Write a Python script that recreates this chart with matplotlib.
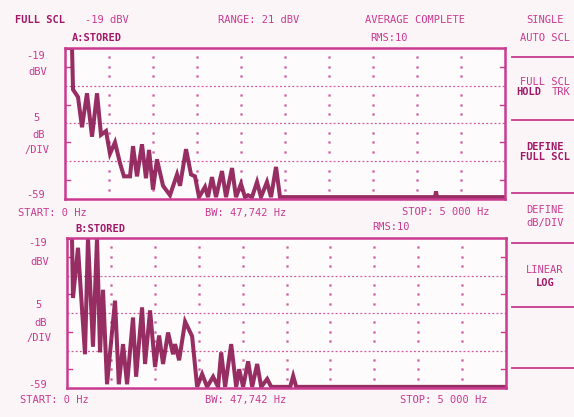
import numpy as np
import matplotlib.pyplot as plt
from matplotlib.lines import Line2D

# trace A (top), frequency in Hz and level in dBV
freq_a = [0, 80, 91, 148, 193, 250, 307, 364, 409, 466, 511, 568, 625, 670, 739,
          773, 818, 875, 920, 955, 1000, 1045, 1114, 1193, 1273, 1307, 1375, 1432,
          1477, 1523, 1591, 1625, 1670, 1716, 1784, 1830, 1898, 1943, 2000, 2045,
          2080, 2125, 2182, 2227, 2295, 2341, 2398, 2443, 4205, 4216, 4227, 5000]
level_a = [-19, -19, -30, -32, -40, -31, -42.5, -31, -42, -41, -47, -44, -49.5, -53, -53,
           -45, -53, -44.5, -53.5, -46, -56.5, -48.5, -55.5, -58, -52.5, -55.5, -45.8, -52.5,
           -53, -58.5, -55.8, -58.5, -53.2, -58.5, -51.6, -58.5, -50.8, -58.5, -55, -58.5,
           -58, -58.5, -54.5, -58.5, -54.5, -58.5, -50.5, -58.5, -58.5, -57, -58.5, -58.5]

# trace B (bottom)
freq_b = [0, 57, 68, 125, 205, 239, 296, 342, 376, 410, 456, 547, 590, 638, 684, 752,
          787, 855, 889, 946, 1003, 1049, 1094, 1151, 1208, 1231, 1277, 1345, 1425,
          1482, 1539, 1596, 1664, 1721, 1756, 1801, 1870, 1927, 1961, 2006, 2063,
          2109, 2166, 2212, 2280, 2326, 2542, 2576, 2611, 5000]
level_b = [-19, -19, -35, -21.6, -50, -19, -48, -19, -49.5, -32.8, -58, -35.7, -58, -47.3, -58, -40.2,
           -56, -37.5, -52.6, -38.3, -53.4, -45, -52.6, -44.2, -50, -47.3, -51.6, -41.3, -45.2,
           -58.7, -55.3, -58.7, -56, -58.7, -49.5, -58.7, -47.3, -58.7, -54, -58.7, -51.9,
           -58.7, -52.6, -58.7, -56.6, -58.7, -58.7, -55.8, -58.7, -58.7]

W, H = 574, 417
fg = '#c93a90'
dark = '#a01866'
trace_col = '#8c1852'
mono = 'DejaVu Sans Mono'

fig = plt.figure(figsize=(W / 100, H / 100), dpi=100)
fig.patch.set_facecolor('#fcf5f8')


def px(x, y):
    return x / W, 1 - y / H


def txt(x, y, s, bold=False, size=7.5, ha='left'):
    fx, fy = px(x, y)
    fig.text(fx, fy, s, fontsize=size, family=mono, ha=ha, va='center',
             color=dark if bold else fg, fontweight='bold' if bold else 'normal')


def make_panel(rect, freq, level):
    ax = fig.add_axes(rect)
    ax.set_facecolor('#fefbfc')
    ax.set_xlim(0, 5000)
    ax.set_ylim(-59, -19)
    ax.set_xticks([])
    ax.set_yticks([])
    for s in ax.spines.values():
        s.set_color(fg)
        s.set_linewidth(1.8)
    for yy in [-29, -39, -49]:
        ax.axhline(yy, color=fg, lw=0.9, ls=(0, (1.5, 1.8)), alpha=0.85)
    dots_y = [v for v in np.arange(-56.5, -19, 2.5) if v not in (-29, -39, -49)]
    for xx in range(500, 5000, 500):
        ax.plot([xx] * len(dots_y), dots_y, ls='none', marker='s', ms=1.0,
                color=fg, alpha=0.55)
    for yy in [-24, -34, -44, -54]:
        ax.plot([0, 60], [yy, yy], color=fg, lw=1.0)
        ax.plot([4940, 5000], [yy, yy], color=fg, lw=1.0)
    ax.plot(freq, level, color=trace_col, lw=2.9, solid_joinstyle='miter', alpha=0.9)
    return ax


make_panel([65 / W, 1 - 199 / H, 440 / W, 151 / H], freq_a, level_a)
make_panel([67 / W, 1 - 388 / H, 439 / W, 150 / H], freq_b, level_b)

# header
txt(15, 20, 'FULL SCL', bold=True)
txt(85, 20, '-19 dBV')
txt(218, 20, 'RANGE: 21 dBV')
txt(365, 20, 'AVERAGE COMPLETE')
txt(72, 38, 'A:STORED', bold=True)
txt(370, 38, 'RMS:10')

# top panel labels
txt(45, 56, '-19', ha='right')
txt(47, 72, 'dBV', ha='right')
txt(40, 118, '5', ha='right')
txt(45, 135, 'dB', ha='right')
txt(49, 150, '/DIV', ha='right')
txt(45, 195, '-59', ha='right')
txt(18, 213, 'START: 0 Hz')
txt(205, 213, 'BW: 47,742 Hz')
txt(402, 212, 'STOP: 5 000 Hz')

# bottom panel labels
txt(75, 229, 'B:STORED', bold=True)
txt(372, 227, 'RMS:10')
txt(47, 243, '-19', ha='right')
txt(49, 262, 'dBV', ha='right')
txt(42, 305, '5', ha='right')
txt(47, 323, 'dB', ha='right')
txt(51, 338, '/DIV', ha='right')
txt(47, 385, '-59', ha='right')
txt(20, 400, 'START: 0 Hz')
txt(205, 400, 'BW: 47,742 Hz')
txt(400, 400, 'STOP: 5 000 Hz')

# softkey menu
menu = [('SINGLE', 20, False), ('AUTO SCL', 38, False),
        ('FULL SCL', 82, False), ('HOLD TRK', 92, None),
        ('DEFINE', 147, True), ('FULL SCL', 157, True),
        ('DEFINE', 210, False), ('dB/DIV', 223, False),
        ('LINEAR', 270, False), ('LOG', 283, True)]
for label, yy, b in menu:
    if b is None:
        txt(516, yy, 'HOLD', bold=True)
        txt(552, yy, 'TRK')
    else:
        txt(545, yy, label, bold=b, ha='center')

for yy in [57, 120, 193, 243, 307, 368]:
    x0, y0 = px(512, yy)
    x1, _ = px(574, yy)
    fig.add_artist(Line2D([x0, x1], [y0, y0], color=fg, lw=1.3))

fig.savefig('out.png', dpi=100, facecolor=fig.get_facecolor())
